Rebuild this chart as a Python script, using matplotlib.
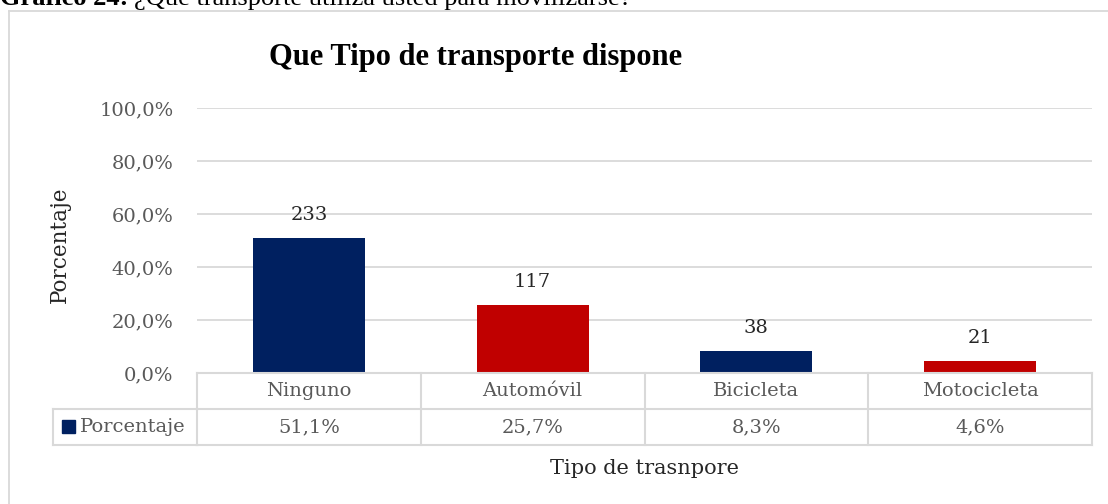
import matplotlib.pyplot as plt
import matplotlib.transforms as mtransforms
from matplotlib.lines import Line2D
from matplotlib.patches import Rectangle

# === Data ===
categories = ['Ninguno', 'Automóvil', 'Bicicleta', 'Motocicleta']
porcentaje = [0.511, 0.257, 0.083, 0.046]
frecuencia = [233, 117, 38, 21]
table_labels = ['51,1%', '25,7%', '8,3%', '4,6%']
bar_colors = ['#002060', '#C00000', '#002060', '#C00000']
yticks = [0.0, 0.2, 0.4, 0.6, 0.8, 1.0]
ytick_labels = ['0,0%', '20,0%', '40,0%', '60,0%', '80,0%', '100,0%']

W, H = 1108, 504
grid_c = '#D9D9D9'
txt_c = '#595959'
serif = ['DejaVu Serif']

fig = plt.figure(figsize=(W / 100, H / 100), dpi=100)

def fx(px):
    return px / W

def fy(py):
    return 1 - py / H

# chart border (top + left visible)
fig.add_artist(Line2D([fx(9), fx(9)], [fy(11), 0], color=grid_c, lw=1.3))
fig.add_artist(Line2D([fx(9), 1], [fy(11), fy(11)], color=grid_c, lw=1.3))

# caption, partly cut at the top of the image (as in the source)
cap1 = fig.text(0, fy(5), 'Gráfico 24:', fontsize=19, fontweight='bold',
                family='Liberation Serif', va='baseline', ha='left')
fig.canvas.draw()
bb = cap1.get_window_extent()
fig.text(bb.x1 / W + fx(6), fy(5), '¿Qué transporte utiliza usted para movilizarse?', fontsize=19,
         family='Liberation Serif', va='baseline', ha='left')

# === Axes ===
ax = fig.add_axes([fx(197), fy(373), fx(1092) - fx(197), fy(108) - fy(373)])
x = list(range(len(categories)))
ax.bar(x, porcentaje, width=0.5, color=bar_colors, zorder=3)
ax.set_xlim(-0.5, len(categories) - 0.5)
ax.set_ylim(0, 1.0)
ax.set_yticks(yticks)
ax.set_yticklabels(ytick_labels, family=serif, fontsize=14, color=txt_c)
ax.set_xticks([])
ax.tick_params(axis='y', length=0, pad=17)
ax.grid(True, axis='y', color=grid_c, lw=1.3, zorder=0)
for s in ax.spines.values():
    s.set_visible(False)

for i, v in enumerate(porcentaje):
    ax.annotate(str(frecuencia[i]), (i, v), xytext=(0, 10), textcoords='offset points',
                ha='center', va='bottom', family=serif, fontsize=14, color='#262626')

# title and axis titles
fig.text(fx(476), fy(57), 'Que Tipo de transporte dispone', family='Liberation Serif',
         fontweight='bold', fontsize=22, ha='center', va='center')
fig.text(fx(60), fy(245), 'Porcentaje', family=serif, fontsize=15.5, rotation=90,
         ha='center', va='center', color='#262626')
fig.text(fx(644), fy(468), 'Tipo de trasnpore', family=serif, fontsize=15,
         ha='center', va='center', color='#262626')

# === Data table ===
tr = mtransforms.blended_transform_factory(ax.transData, fig.transFigure)
y0, y1, y2 = fy(373), fy(409), fy(445)
edges = [i - 0.5 for i in range(len(categories) + 1)]
for e in edges:
    fig.add_artist(Line2D([e, e], [y0, y2], transform=tr, color=grid_c, lw=1.5))
for yy in (y0, y1, y2):
    fig.add_artist(Line2D([edges[0], edges[-1]], [yy, yy], transform=tr, color=grid_c, lw=1.5))
# legend cell on the left
fig.add_artist(Line2D([fx(53), fx(197)], [y1, y1], color=grid_c, lw=1.5))
fig.add_artist(Line2D([fx(53), fx(197)], [y2, y2], color=grid_c, lw=1.5))
fig.add_artist(Line2D([fx(53), fx(53)], [y1, y2], color=grid_c, lw=1.5))
fig.add_artist(Rectangle((fx(62), fy(433)), fx(13), fy(420) - fy(433), color='#002060'))
fig.text(fx(80), (y1 + y2) / 2, 'Porcentaje', family=serif, fontsize=14, color=txt_c,
         ha='left', va='center')

for i, cat in enumerate(categories):
    fig.text(i, (y0 + y1) / 2, cat, transform=tr, family=serif, fontsize=14,
             color=txt_c, ha='center', va='center')
    fig.text(i, (y1 + y2) / 2, table_labels[i], transform=tr, family=serif, fontsize=14,
             color=txt_c, ha='center', va='center')

fig.savefig('out.png', dpi=100)
